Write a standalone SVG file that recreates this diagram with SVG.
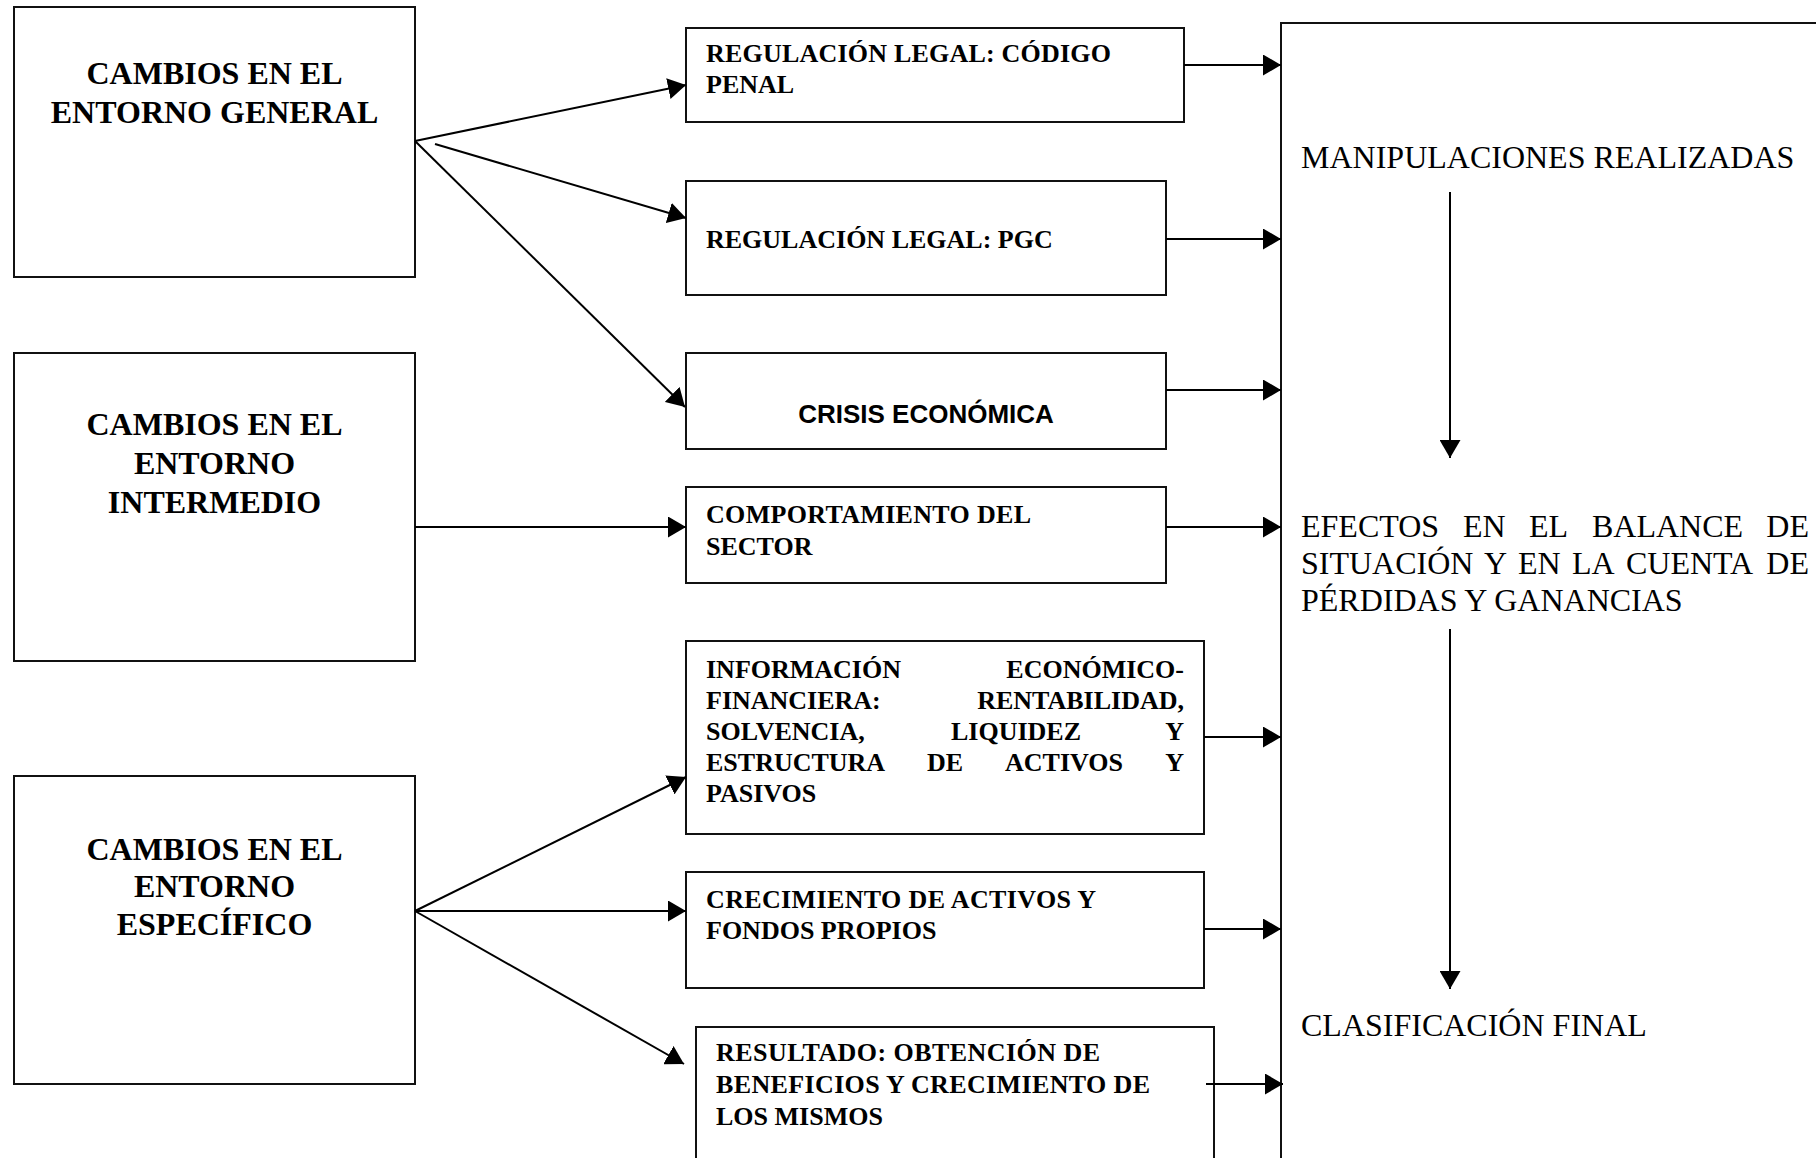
<svg xmlns="http://www.w3.org/2000/svg" width="1816" height="1158" viewBox="0 0 1816 1158">
<style>
.box{fill:#fff;stroke:#111;stroke-width:2}
.lb{font-family:"Liberation Serif","Times New Roman",serif;font-weight:bold;font-size:32px;fill:#000;text-anchor:middle}
.mb{font-family:"Liberation Serif","Times New Roman",serif;font-weight:bold;font-size:26px;fill:#000}
.sb{font-family:"Liberation Sans",Arial,sans-serif;font-weight:bold;font-size:26px;fill:#000;text-anchor:middle}
.rt{font-family:"Liberation Serif","Times New Roman",serif;font-size:32px;fill:#000}
.end{text-anchor:end}
.conn line{stroke:#000;stroke-width:2;marker-end:url(#ah)}
</style>
<defs>
<marker id="ah" markerUnits="userSpaceOnUse" markerWidth="18" markerHeight="21" refX="18" refY="10.5" orient="auto">
<path d="M0,0 L18,10.5 L0,21 Z" fill="#000"/>
</marker>
</defs>
<rect width="1816" height="1158" fill="#fff"/>

<g id="general">
<rect class="box" x="14" y="7" width="401" height="270"/>
<text class="lb" x="214.5" y="84">CAMBIOS EN EL</text>
<text class="lb" x="214.5" y="123">ENTORNO GENERAL</text>
</g>
<g id="intermedio">
<rect class="box" x="14" y="353" width="401" height="308"/>
<text class="lb" x="214.5" y="435">CAMBIOS EN EL</text>
<text class="lb" x="214.5" y="474">ENTORNO</text>
<text class="lb" x="214.5" y="513">INTERMEDIO</text>
</g>
<g id="especifico">
<rect class="box" x="14" y="776" width="401" height="308"/>
<text class="lb" x="214.5" y="860">CAMBIOS EN EL</text>
<text class="lb" x="214.5" y="897">ENTORNO</text>
<text class="lb" x="214.5" y="935">ESPECÍFICO</text>
</g>

<g id="codigo-penal">
<rect class="box" x="686" y="28" width="498" height="94"/>
<text class="mb" x="706" y="62" textLength="405" lengthAdjust="spacing">REGULACIÓN LEGAL: CÓDIGO</text>
<text class="mb" x="706" y="93">PENAL</text>
</g>
<g id="pgc">
<rect class="box" x="686" y="181" width="480" height="114"/>
<text class="mb" x="706" y="248">REGULACIÓN LEGAL: PGC</text>
</g>
<g id="crisis">
<rect class="box" x="686" y="353" width="480" height="96"/>
<text class="sb" x="926" y="423">CRISIS ECONÓMICA</text>
</g>
<g id="sector">
<rect class="box" x="686" y="487" width="480" height="96"/>
<text class="mb" x="706" y="523" textLength="325" lengthAdjust="spacing">COMPORTAMIENTO DEL</text>
<text class="mb" x="706" y="555">SECTOR</text>
</g>
<g id="informacion">
<rect class="box" x="686" y="641" width="518" height="193"/>
<text class="mb" x="706" y="678">INFORMACIÓN</text>
<text class="mb end" x="1184" y="678">ECONÓMICO-</text>
<text class="mb" x="706" y="709">FINANCIERA:</text>
<text class="mb end" x="1184" y="709">RENTABILIDAD,</text>
<text class="mb" x="706" y="740">SOLVENCIA,</text>
<text class="mb" x="951" y="740">LIQUIDEZ</text>
<text class="mb end" x="1184" y="740">Y</text>
<text class="mb" x="706" y="771">ESTRUCTURA</text>
<text class="mb" x="927" y="771">DE</text>
<text class="mb" x="1005" y="771">ACTIVOS</text>
<text class="mb end" x="1184" y="771">Y</text>
<text class="mb" x="706" y="802">PASIVOS</text>
</g>
<g id="crecimiento">
<rect class="box" x="686" y="872" width="518" height="116"/>
<text class="mb" x="706" y="908" textLength="390" lengthAdjust="spacing">CRECIMIENTO DE ACTIVOS Y</text>
<text class="mb" x="706" y="939">FONDOS PROPIOS</text>
</g>
<g id="resultado">
<rect class="box" x="696" y="1027" width="518" height="200"/>
<text class="mb" x="716" y="1061" textLength="384" lengthAdjust="spacing">RESULTADO: OBTENCIÓN DE</text>
<text class="mb" x="716" y="1093" textLength="434" lengthAdjust="spacing">BENEFICIOS Y CRECIMIENTO DE</text>
<text class="mb" x="716" y="1125">LOS MISMOS</text>
</g>

<g id="proceso">
<rect class="box" x="1281" y="23" width="600" height="1200"/>
<text class="rt" x="1301" y="168">MANIPULACIONES REALIZADAS</text>
<text class="rt" x="1301" y="537">EFECTOS</text>
<text class="rt" x="1463" y="537">EN</text>
<text class="rt" x="1529" y="537">EL</text>
<text class="rt" x="1592" y="537">BALANCE</text>
<text class="rt end" x="1809" y="537">DE</text>
<text class="rt" x="1301" y="574">SITUACIÓN</text>
<text class="rt" x="1484" y="574">Y</text>
<text class="rt" x="1518" y="574">EN</text>
<text class="rt" x="1572" y="574">LA</text>
<text class="rt" x="1626" y="574">CUENTA</text>
<text class="rt end" x="1809" y="574">DE</text>
<text class="rt" x="1301" y="611">PÉRDIDAS Y GANANCIAS</text>
<text class="rt" x="1301" y="1036">CLASIFICACIÓN FINAL</text>
</g>

<g id="connectors" class="conn">
<line x1="415" y1="141" x2="686" y2="85"/>
<line x1="435" y1="144" x2="686" y2="218"/>
<line x1="415" y1="141" x2="685" y2="407"/>
<line x1="415" y1="527" x2="686" y2="527"/>
<line x1="415" y1="911" x2="686" y2="777"/>
<line x1="415" y1="911" x2="686" y2="911"/>
<line x1="415" y1="911" x2="684" y2="1064"/>
<line x1="1184" y1="65" x2="1281" y2="65"/>
<line x1="1166" y1="239" x2="1281" y2="239"/>
<line x1="1166" y1="390" x2="1281" y2="390"/>
<line x1="1166" y1="527" x2="1281" y2="527"/>
<line x1="1204" y1="737" x2="1281" y2="737"/>
<line x1="1204" y1="929" x2="1281" y2="929"/>
<line x1="1206" y1="1084" x2="1283" y2="1084"/>
<line x1="1450" y1="192" x2="1450" y2="458"/>
<line x1="1450" y1="629" x2="1450" y2="989"/>
</g>
</svg>
